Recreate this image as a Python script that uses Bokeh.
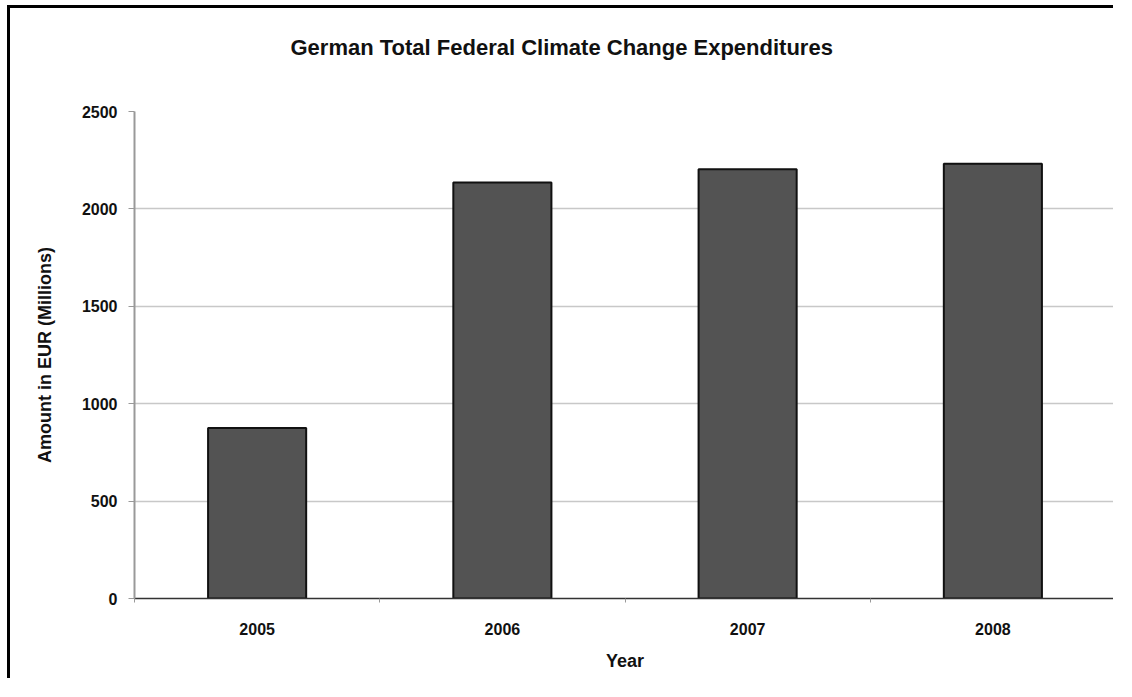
from bokeh.plotting import figure
from bokeh.models import Range1d, FixedTicker, Title
from bokeh.embed import file_html
from bokeh.resources import INLINE

years = [2005, 2006, 2007, 2008]
amounts = [875, 2136, 2204, 2232]
y_ticks = [0, 500, 1000, 1500, 2000, 2500]
boundaries = [2004.5, 2005.5, 2006.5, 2007.5, 2008.5]

FONT = "Liberation Sans"

p = figure(width=1106, height=673, output_backend="svg", toolbar_location=None,
           x_range=Range1d(2004.5, 2008.5), y_range=Range1d(0, 2500),
           min_border_left=124, min_border_right=1, min_border_top=103, min_border_bottom=83)
p.styles = {"border-top": "3px solid black", "border-left": "3px solid black",
            "margin-left": "7px", "margin-top": "5px"}

p.title = Title(text="German Total Federal Climate Change Expenditures",
                text_font=FONT, text_font_size="22px", text_font_style="bold",
                text_color="#111111", align="left", offset=156, standoff=10)
# empty spacer between the title and the plot frame
p.add_layout(Title(text=" ", text_font=FONT, text_font_size="22px", standoff=20), "above")

p.vbar(x=years, top=amounts, width=0.4, fill_color="#535353",
       line_color="#111111", line_width=2)

p.outline_line_color = None
p.background_fill_color = "white"
p.border_fill_color = "white"

p.xgrid.grid_line_color = None
p.ygrid.grid_line_color = "#c8c8c8"
p.ygrid.grid_line_width = 1.5

p.yaxis.ticker = FixedTicker(ticks=y_ticks)
p.yaxis.axis_line_color = "#999999"
p.yaxis.axis_line_width = 2
p.yaxis.major_tick_line_color = "#999999"
p.yaxis.major_tick_out = 6
p.yaxis.major_tick_in = 0
p.yaxis.minor_tick_line_color = None
p.yaxis.major_label_standoff = 11
p.yaxis.axis_label = "Amount in EUR (Millions)"
p.yaxis.axis_label_standoff = 24

p.xaxis.ticker = FixedTicker(ticks=years, minor_ticks=boundaries)
p.xaxis.axis_line_color = "#333333"
p.xaxis.axis_line_width = 1.5
p.xaxis.major_tick_line_color = None
p.xaxis.minor_tick_line_color = "#999999"
p.xaxis.minor_tick_out = 4
p.xaxis.minor_tick_in = 0
p.xaxis.major_label_standoff = 18
p.xaxis.axis_label = "Year"
p.xaxis.axis_label_standoff = 13

for ax in (p.xaxis[0], p.yaxis[0]):
    ax.major_label_text_font = FONT
    ax.major_label_text_font_size = "16px"
    ax.major_label_text_font_style = "bold"
    ax.major_label_text_color = "#111111"
    ax.axis_label_text_font = FONT
    ax.axis_label_text_font_size = "18px"
    ax.axis_label_text_font_style = "bold"
    ax.axis_label_text_color = "#111111"

open("out.html", "w").write(file_html(p, INLINE))
